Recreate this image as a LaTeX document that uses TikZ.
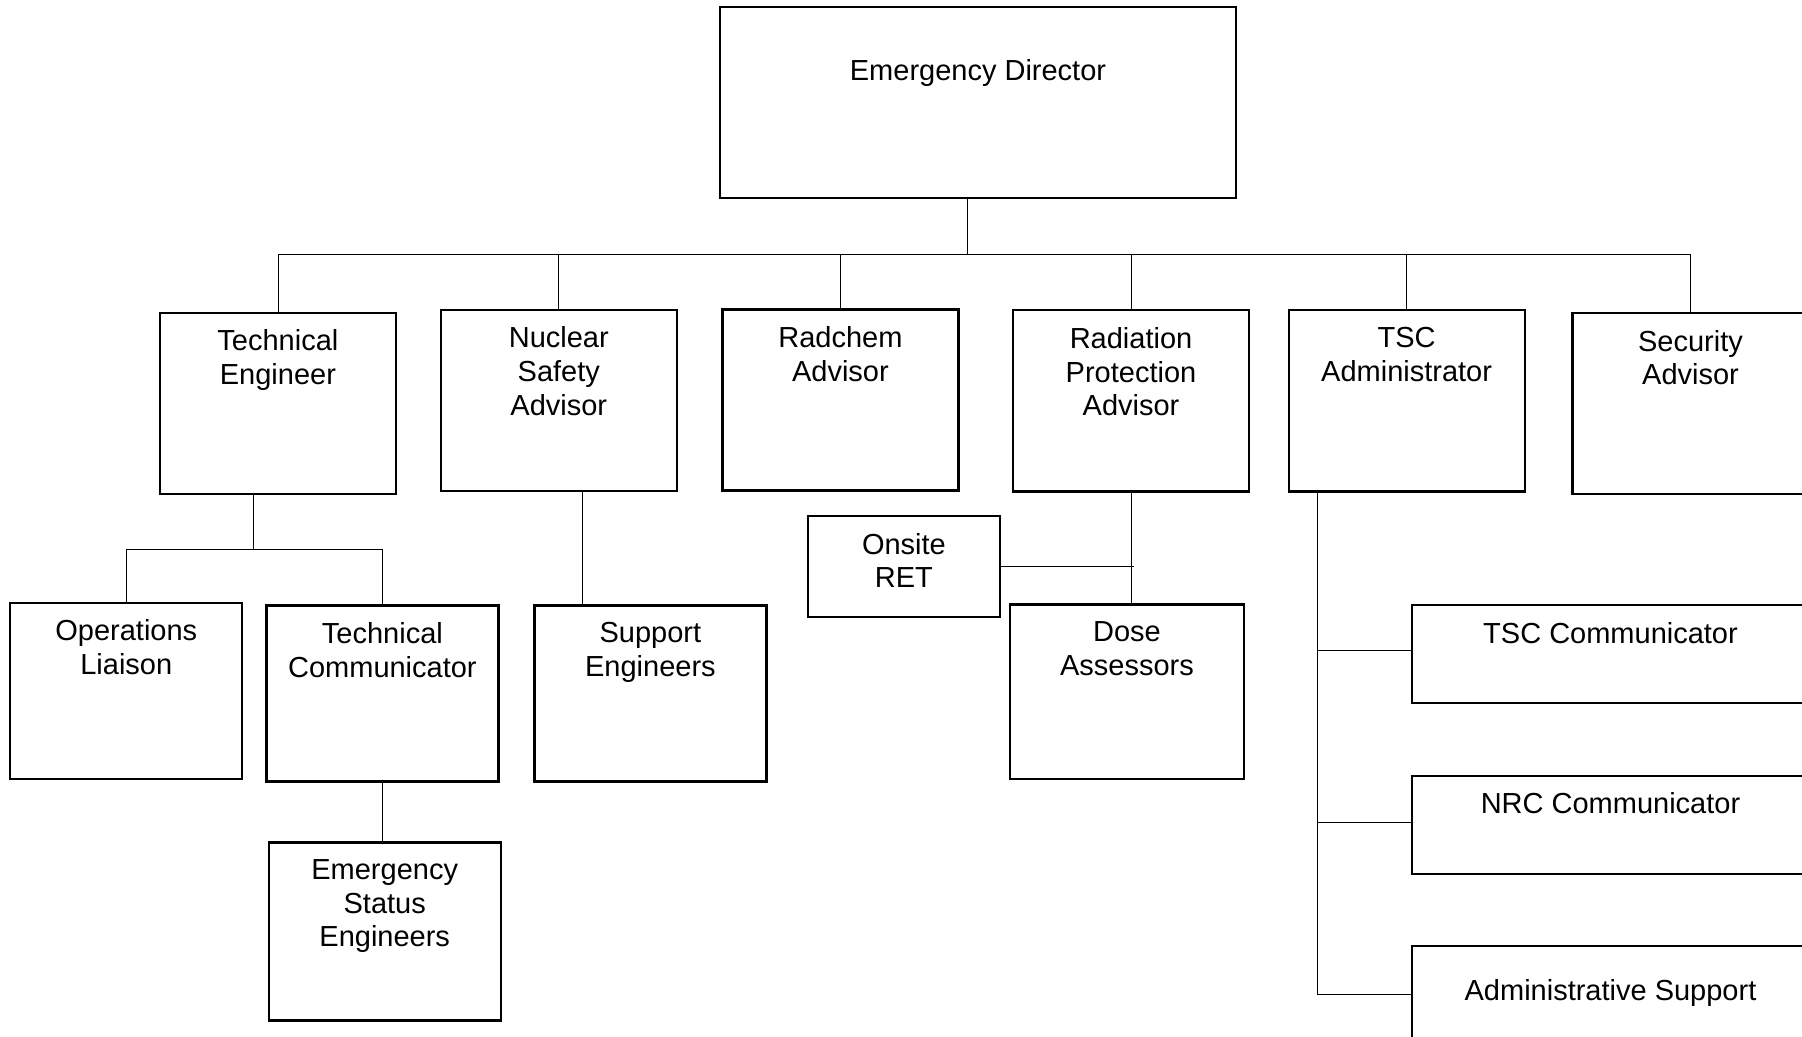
\documentclass[tikz,border=0pt]{standalone}
\usepackage{fontspec}
\setmainfont{Liberation Sans}
\usepackage{tikz}
\usetikzlibrary{calc,positioning}
\tikzset{
	line width=1.05pt,
	role/.style ={rectangle, draw, line width=1.1pt, minimum width=118pt, minimum height=90.5pt, inner sep=0pt},
	unit/.style ={role, minimum width=116pt, minimum height=88pt},
	desk/.style ={role, minimum width=198.5pt, minimum height=49pt},
	head/.style = {align=center, inner sep=0pt, font=\fontsize{14.5}{16.9}\selectfont}
}

\begin{document}
\begin{tikzpicture}[x=0.5pt,y=-0.5pt]
    \useasboundingbox (0,0) rectangle (1802,1037);
    \clip (0,0) rectangle (1802,1037);

    \node[role, minimum width=257.7pt, minimum height=95.5pt] (ed) at (978,102.2) {};
    \node[head, below=26.5pt of ed.north] (ed-t) {Emergency Director};

    \node[role] (te) at (277.9,403.2) {};
    \node[role] (nsa) at (558.8,400.5) {};
    \node[role] (rca) at (840.4,400) {};
    \node[role] (rpa) at (1131,400.9) {};
    \node[role] (tsca) at (1406.6,400.9) {};
    \node[role] (sa) at (1690.5,403.7) {};
    \node[head, below=8.8pt of te.north] (te-t) {Technical\\Engineer};
    \node[head, below=8.8pt of nsa.north] (nsa-t) {Nuclear\\Safety\\Advisor};
    \node[head, below=8.8pt of rca.north] (rca-t) {Radchem\\Advisor};
    \node[head, below=8.8pt of rpa.north] (rpa-t) {Radiation\\Protection\\Advisor};
    \node[head, below=8.8pt of tsca.north] (tsca-t) {TSC\\Administrator};
    \node[head, below=8.8pt of sa.north] (sa-t) {Security\\Advisor};

    \node[unit] (ol) at (126.3,690.9) {};
    \node[unit] (tc) at (382.4,693.5) {};
    \node[unit, minimum height=89pt] (ese) at (384.7,931.5) {};
    \node[unit] (se) at (650.4,693.5) {};
    \node[unit, minimum width=96.2pt, minimum height=50.3pt] (ret) at (903.9,566.4) {};
    \node[unit, minimum width=117pt, minimum height=87.3pt] (da) at (1127,691.7) {};
    \node[head, below=8.8pt of ol.north] (ol-t) {Operations\\Liaison};
    \node[head, below=8.8pt of tc.north] (tc-t) {Technical\\Communicator};
    \node[head, below=8.8pt of ese.north] (ese-t) {Emergency\\Status\\Engineers};
    \node[head, below=8.8pt of se.north] (se-t) {Support\\Engineers};
    \node[head, below=8.8pt of ret.north] (ret-t) {Onsite\\RET};
    \node[head, below=8.8pt of da.north] (da-t) {Dose\\Assessors};

    \node[desk] (tscc) at (1610.5,654.2) {};
    \node[desk] (nrcc) at (1610.5,824.9) {};
    \node[desk] (as) at (1610.5,994.7) {};
    \node[head, below=8.8pt of tscc.north] (tscc-t) {TSC Communicator};
    \node[head, below=8.8pt of nrcc.north] (nrcc-t) {NRC Communicator};
    \node[head, below=17pt of as.north] (as-t) {Administrative Support};

    % director to advisors
    \coordinate (bus) at (0,254);
    \coordinate (ed-out) at ([xshift=-5.4pt]ed.south);
    \draw (ed-out) -- (ed-out |- bus);
    \draw (te.north |- bus) -- (sa.north |- bus);
    \foreach \n in {te,nsa,rca,rpa,tsca,sa}
        \draw (\n.north) -- (\n.north |- bus);

    % technical engineer
    \coordinate (te-j) at (253,549.7);
    \draw (te.south -| te-j) -- (te-j);
    \draw (ol.north) |- (te-j) -| (tc.north);
    \draw (tc.south) -- (tc.south |- ese.north);

    % nuclear safety
    \coordinate (nsa-out) at ([xshift=12pt]nsa.south);
    \draw (nsa-out) -- (nsa-out |- se.north);

    % radiation protection
    \draw (rpa.south) -- (rpa.south |- da.north);
    \draw (ret.east) -- ([xshift=1.5pt]ret.east -| rpa.south);

    % tsc administrator
    \coordinate (tsca-out) at ([xshift=14.8pt]tsca.south west);
    \draw (tsca-out) |- (as.west);
    \draw ([yshift=1.7pt]tscc.west) -- ([yshift=1.7pt]tscc.west -| tsca-out);
    \draw ([yshift=1.5pt]nrcc.west) -- ([yshift=1.5pt]nrcc.west -| tsca-out);
\end{tikzpicture}
\end{document}
